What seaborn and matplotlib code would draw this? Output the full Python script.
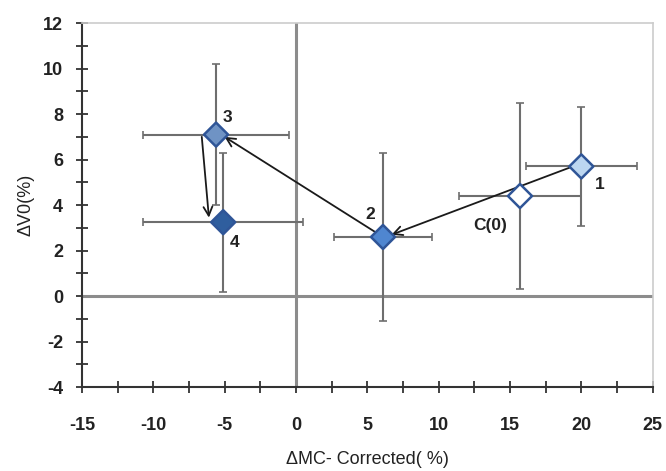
import matplotlib
matplotlib.use("Agg")
import matplotlib.pyplot as plt
import seaborn as sns
import pandas as pd
import numpy as np

labels = ["C(0)", "1", "2", "3", "4"]
x_vals = [15.7, 20.0, 6.1, -5.6, -5.1]
y_vals = [4.4, 5.7, 2.6, 7.1, 3.25]
x_err = [4.3, 3.9, 3.4, 5.1, 5.6]
y_err = [4.1, 2.6, 3.7, 3.1, 3.05]
face_colors = ["#ffffff", "#bcd6f0", "#4f86d0", "#6f93c4", "#2f5e9e"]

df = pd.DataFrame({"label": labels, "x": x_vals, "y": y_vals,
                   "xerr": x_err, "yerr": y_err})

sns.set_theme(style="white")
plt.rcParams["font.family"] = ["Liberation Sans", "DejaVu Sans"]
plt.rcParams["axes.unicode_minus"] = False

fig = plt.figure(figsize=(6.66, 4.71), dpi=100)
ax = fig.add_axes([0.123, 0.178, 0.857, 0.773])

# reference lines
ax.axvline(0, color="#8c8c8c", lw=2.2, zorder=1)
ax.axhline(0, color="#8c8c8c", lw=2.2, zorder=1)

# error bars
ax.errorbar(df["x"], df["y"], xerr=df["xerr"], yerr=df["yerr"], fmt="none",
            ecolor="#6e6e6e", elinewidth=1.5, capsize=3, capthick=1.2, zorder=2)

# arrows
def arrow(x0, y0, x1, y1):
    ax.annotate("", xy=(x1, y1), xytext=(x0, y0),
                arrowprops=dict(arrowstyle="->", color="#1a1a1a", lw=1.3,
                                mutation_scale=16, shrinkA=0, shrinkB=0), zorder=3)

arrow(df.x[1] - 0.6, df.y[1] + 0.0, df.x[2] + 0.6, df.y[2] + 0.1)
arrow(df.x[2] - 0.5, df.y[2] + 0.2, df.x[3] + 0.6, df.y[3] - 0.1)
arrow(df.x[3] - 1.0, df.y[3] - 0.1, df.x[4] - 1.0, df.y[4] + 0.2)

sns.scatterplot(data=df, x="x", y="y", hue="label", palette=face_colors,
                marker="D", s=150, edgecolor="#2f5597", linewidth=1.8,
                legend=False, ax=ax, zorder=4)

# point labels
offsets = {"C(0)": (-2.1, -1.3), "1": (1.3, -0.8), "2": (-0.9, 1.0),
           "3": (0.8, 0.75), "4": (0.8, -0.9)}
for lab, xv, yv in zip(labels, x_vals, y_vals):
    dx, dy = offsets[lab]
    ax.text(xv + dx, yv + dy, lab, fontsize=12.5, fontweight="bold",
            color="#222222", ha="center", va="center", zorder=5)

ax.set_xlim(-15, 25)
ax.set_ylim(-4, 12)
ax.set_xticks(np.arange(-15, 26, 5))
ax.set_xticks(np.arange(-15, 26, 2.5), minor=True)
ax.set_yticks(np.arange(-4, 13, 2))
ax.set_yticks(np.arange(-4, 13, 1), minor=True)
ax.tick_params(axis="both", which="both", direction="inout", color="#333333",
               width=1.3, bottom=True, left=True)
ax.tick_params(axis="both", which="major", length=9, labelsize=13)
ax.tick_params(axis="x", which="major", pad=17)
ax.tick_params(axis="y", which="major", pad=9)
ax.tick_params(axis="both", which="minor", length=9)
for t in ax.get_xticklabels() + ax.get_yticklabels():
    t.set_fontweight("bold")
    t.set_color("#222222")

for side in ["left", "bottom"]:
    ax.spines[side].set_color("#333333")
    ax.spines[side].set_linewidth(1.5)
for side in ["top", "right"]:
    ax.spines[side].set_color("#cccccc")
    ax.spines[side].set_linewidth(1.2)

ax.set_xlabel("ΔMC- Corrected( %)", fontsize=13, color="#222222", labelpad=12)
ax.set_ylabel("ΔV0(%)", fontsize=13, color="#222222", labelpad=6)

fig.savefig("out.png", dpi=100)
